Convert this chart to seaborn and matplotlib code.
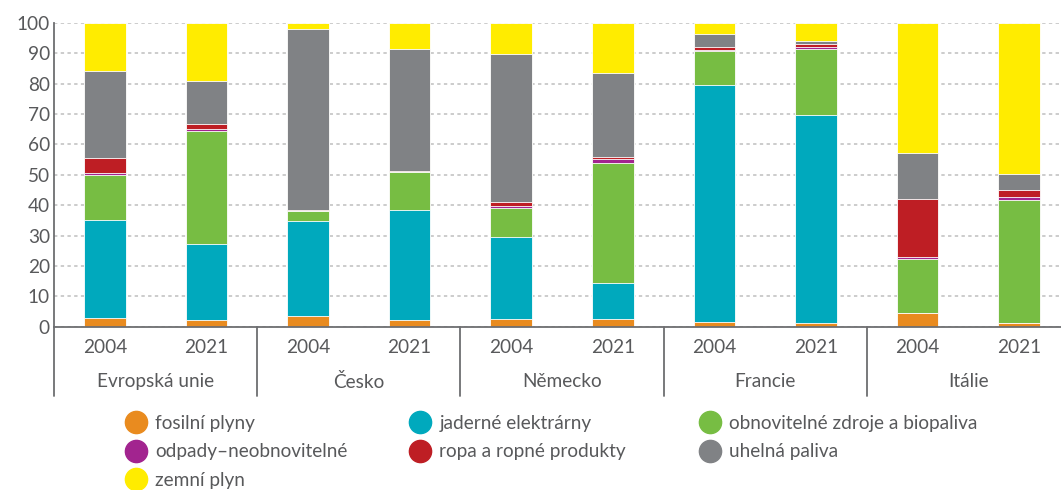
import numpy as np
import pandas as pd
import matplotlib
matplotlib.use("Agg")
import matplotlib.pyplot as plt
import matplotlib.transforms as mtransforms
from matplotlib.lines import Line2D
import seaborn as sns

# ---- data (shares in %) ----
countries = ["Evropská unie", "Česko", "Německo", "Francie", "Itálie"]
years = ["2004", "2021"]
series_names = [
    "fosilní plyny",
    "jaderné elektrárny",
    "obnovitelné zdroje a biopaliva",
    "odpady–neobnovitelné",
    "ropa a ropné produkty",
    "uhelná paliva",
    "zemní plyn",
]
fosilni = [3.0, 2.1, 3.6, 2.2, 2.5, 2.7, 1.6, 1.2, 4.4, 1.3]
jaderne = [32.0, 25.2, 31.1, 36.2, 27.1, 11.7, 78.1, 68.4, 0.0, 0.0]
obnovitelne = [15.0, 37.0, 3.3, 12.6, 9.5, 39.5, 11.1, 21.9, 17.9, 40.4]
odpady = [0.5, 0.8, 0.1, 0.1, 0.5, 1.2, 0.3, 0.5, 0.6, 0.9]
ropa = [4.9, 1.5, 0.3, 0.1, 1.6, 0.7, 1.1, 1.2, 19.3, 2.5]
uhelna = [28.9, 14.4, 59.7, 40.2, 48.5, 27.8, 4.2, 0.9, 15.0, 5.1]
zemni = [15.7, 19.0, 1.9, 8.6, 10.3, 16.4, 3.6, 5.9, 42.8, 49.8]
yticks = list(range(0, 101, 10))

colors = ["#E98B1F", "#00A9BD", "#77BD43", "#A2248F", "#BE1E24", "#808285", "#FFEC00"]
text_col = "#58595B"
axis_col = "#6D6E71"

sns.set_theme(style="white")
plt.rcParams["font.family"] = ["Lato", "DejaVu Sans"]
FS = 13.7

W, H = 1061, 490
fig = plt.figure(figsize=(W / 100, H / 100), dpi=100)
ax_left, ax_right, ax_bottom, ax_top = 54, 1070, 490 - 326.7, 490 - 23
ax = fig.add_axes([ax_left / W, ax_bottom / H, (ax_right - ax_left) / W, (ax_top - ax_bottom) / H])

bars = [f"{c} {y}" for c in countries for y in years]
values = np.array([fosilni, jaderne, obnovitelne, odpady, ropa, uhelna, zemni])
cum = np.cumsum(values, axis=0)

for i in reversed(range(len(series_names))):
    df = pd.DataFrame({"bar": bars, "value": cum[i]})
    sns.barplot(data=df, x="bar", y="value", order=bars, color=colors[i],
                saturation=1, width=0.41, errorbar=None,
                edgecolor="white", linewidth=0.6, ax=ax)

ax.set_xlim(-0.5, len(bars) - 0.5)
ax.set_ylim(0, 100)
ax.set_yticks(yticks)
ax.set_yticklabels([str(t) for t in yticks])
ax.set_xticks(range(len(bars)))
ax.set_xticklabels(years * len(countries))
ax.set_xlabel("")
ax.set_ylabel("")
ax.yaxis.grid(True, linestyle=(0, (2.2, 2.2)), color="#BEBEBE", linewidth=1.1)
ax.xaxis.grid(False)
ax.set_axisbelow(True)
ax.tick_params(axis="y", length=0, pad=3, labelsize=FS, labelcolor=text_col)
ax.tick_params(axis="x", length=0, pad=9, labelsize=FS, labelcolor=text_col)
for s in ["top", "right"]:
    ax.spines[s].set_visible(False)
for s in ["left", "bottom"]:
    ax.spines[s].set_color(axis_col)
    ax.spines[s].set_linewidth(1.3)

ax_h = ax_top - ax_bottom
trans = mtransforms.blended_transform_factory(ax.transData, ax.transAxes)
for k in range(len(countries) + 1):
    x = -0.5 + 2 * k
    ax.plot([x, x], [0, -69 / ax_h], transform=trans, clip_on=False,
            color=axis_col, linewidth=1.3)
for k, c in enumerate(countries):
    ax.text(2 * k + 0.5, -55 / ax_h, c, transform=trans, ha="center", va="center",
            fontsize=FS, color=text_col)

# ---- legend: three columns laid out row-wise ----
def handle(c):
    return Line2D([], [], marker="o", linestyle="none", markersize=16,
                  markerfacecolor=c, markeredgecolor=c)

columns = [([0, 3, 6], 136, 452),
           ([1, 4], 420, (423 + 452) / 2),
           ([2, 5], 710, (423 + 452) / 2)]
fs_px = FS * 100 / 72
hl = 1.2
for idx, mx, my in columns:
    x0 = mx - hl * fs_px / 2
    fig.legend([handle(colors[i]) for i in idx], [series_names[i] for i in idx],
               loc="center left", bbox_to_anchor=(x0 / W, 1 - my / H),
               frameon=False, fontsize=FS, labelcolor=text_col,
               borderpad=0, borderaxespad=0, handlelength=hl,
               handletextpad=0.42, labelspacing=0.6)

fig.savefig("out.png", dpi=100)
